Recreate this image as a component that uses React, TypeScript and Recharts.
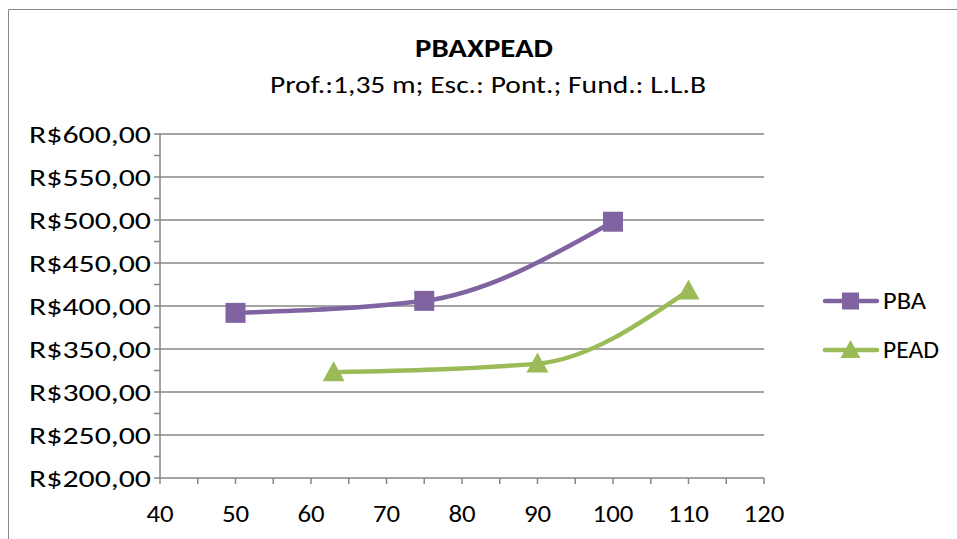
import { LineChart, Line, XAxis, YAxis, ReferenceLine } from "recharts";

const pbaX = [50, 75, 100];
const pbaY = [392, 406, 498];
const peadX = [63, 90, 110];
const peadY = [323, 333, 418];

const xTicks = [40, 45, 50, 55, 60, 65, 70, 75, 80, 85, 90, 95, 100, 105, 110, 115, 120];
const yTicks = [200, 225, 250, 275, 300, 325, 350, 375, 400, 425, 450, 475, 500, 525, 550, 575, 600];
const gridValues = [250, 300, 350, 400, 450, 500, 550, 600];

const pbaData = pbaX.map((x, i) => ({ x, y: pbaY[i] }));
const peadData = peadX.map((x, i) => ({ x, y: peadY[i] }));

const FONT = "Carlito, Lato, sans-serif";
const AXIS = "#868686";
const PURPLE = "#8064A2";
const GREEN = "#9BBB59";

const fmtY = (v: number) => `R$${v.toFixed(2).replace(".", ",")}`;

const YTick = (props: any) => {
  const { x, y, payload } = props;
  if (payload.value % 50 !== 0) return null;
  return (
    <text
      x={x}
      y={y}
      dy="0.36em"
      textAnchor="end"
      fontSize={24}
      fontFamily={FONT}
      fill="#000"
      textLength={122}
      lengthAdjust="spacingAndGlyphs"
    >
      {fmtY(payload.value)}
    </text>
  );
};

const XTick = (props: any) => {
  const { x, y, payload } = props;
  if (payload.value % 10 !== 0) return null;
  const s = String(payload.value);
  return (
    <text
      x={x}
      y={y + 38}
      textAnchor="middle"
      fontSize={24}
      fontFamily={FONT}
      fill="#000"
      textLength={s.length * 13.6}
      lengthAdjust="spacingAndGlyphs"
    >
      {s}
    </text>
  );
};

const Square = (props: any) => {
  const { cx, cy } = props;
  if (cx == null || cy == null) return null;
  return <rect x={cx - 10} y={cy - 10} width={20} height={20} fill={PURPLE} />;
};

const Triangle = (props: any) => {
  const { cx, cy } = props;
  if (cx == null || cy == null) return null;
  return (
    <polygon
      points={`${cx},${cy - 11} ${cx + 11},${cy + 9} ${cx - 11},${cy + 9}`}
      fill={GREEN}
    />
  );
};

export default function App() {
  return (
    <div
      style={{
        position: "absolute",
        left: 0,
        top: 0,
        width: 957,
        height: 539,
        overflow: "hidden",
        background: "#fff",
      }}
    >
      <div style={{ position: "absolute", left: 0, top: 0 }}>
        <LineChart
          width={957}
          height={539}
          margin={{ top: 134, right: 193, bottom: 0, left: 0 }}
        >
          <XAxis
            type="number"
            dataKey="x"
            domain={[40, 120]}
            ticks={xTicks}
            interval={0}
            allowDataOverflow
            stroke={AXIS}
            strokeWidth={1.5}
            tickSize={6}
            tickMargin={0}
            tick={<XTick />}
            height={61}
          />
          <YAxis
            type="number"
            dataKey="y"
            domain={[200, 600]}
            ticks={yTicks}
            interval={0}
            allowDataOverflow
            stroke={AXIS}
            strokeWidth={1.5}
            tickSize={6}
            tickMargin={3}
            tick={<YTick />}
            width={160}
          />
          {gridValues.map((v) => (
            <ReferenceLine key={v} y={v} stroke={AXIS} strokeWidth={1.5} />
          ))}
          <Line
            data={pbaData}
            dataKey="y"
            name="PBA"
            type="monotone"
            stroke={PURPLE}
            strokeWidth={4.5}
            dot={<Square />}
            activeDot={false}
            isAnimationActive={false}
          />
          <Line
            data={peadData}
            dataKey="y"
            name="PEAD"
            type="monotone"
            stroke={GREEN}
            strokeWidth={4.5}
            dot={<Triangle />}
            activeDot={false}
            isAnimationActive={false}
          />
        </LineChart>
      </div>
      <svg
        width={957}
        height={539}
        style={{ position: "absolute", left: 0, top: 0, pointerEvents: "none" }}
        fontFamily={FONT}
      >
        <path d="M8.5 539 V9.5 H957" fill="none" stroke={AXIS} strokeWidth={1} />
        <text
          x={484}
          y={57}
          textAnchor="middle"
          fontSize={27}
          fontWeight="bold"
          textLength={138}
          lengthAdjust="spacingAndGlyphs"
        >
          PBAXPEAD
        </text>
        <text
          x={488}
          y={93}
          textAnchor="middle"
          fontSize={25}
          textLength={436}
          lengthAdjust="spacingAndGlyphs"
        >
          Prof.:1,35 m; Esc.: Pont.; Fund.: L.L.B
        </text>
        <line x1={825} y1={301} x2={877} y2={301} stroke={PURPLE} strokeWidth={4.5} strokeLinecap="round" />
        <rect x={842} y={292.5} width={17} height={17} fill={PURPLE} />
        <text x={883} y={309} fontSize={24} textLength={43} lengthAdjust="spacingAndGlyphs">
          PBA
        </text>
        <line x1={825} y1={350} x2={877} y2={350} stroke={GREEN} strokeWidth={4.5} strokeLinecap="round" />
        <polygon points="850.5,340 860.5,358 840.5,358" fill={GREEN} />
        <text x={883} y={358} fontSize={24} textLength={56} lengthAdjust="spacingAndGlyphs">
          PEAD
        </text>
      </svg>
    </div>
  );
}
